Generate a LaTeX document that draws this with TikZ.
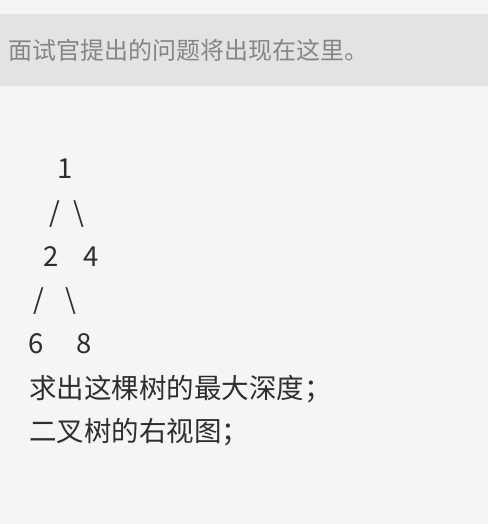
\documentclass[tikz,border=0pt]{standalone}
\usepackage{fontspec}
\setmainfont{Noto Sans CJK SC}
\begin{document}
\begin{tikzpicture}[x=1pt,y=-1pt]
    % ===================================
    % 設定
    % ===================================
    \definecolor{pagebg}{HTML}{F5F5F5}
    \definecolor{bandbg}{HTML}{E3E3E3}
    \definecolor{hintgray}{HTML}{858585}
    \definecolor{inkdark}{HTML}{2E2E2E}

    \tikzset{
        hinttext/.style={inner sep=0pt, text=hintgray, font=\fontsize{24}{28}\selectfont},
        treechar/.style={inner sep=0pt, text=inkdark, font=\fontsize{27.5}{32}\selectfont},
        bodytext/.style={inner sep=0pt, text=inkdark, anchor=base west, font=\fontsize{27.5}{32}\selectfont}
    }
    % ===================================

    % 1. 背景と上部の帯
    \fill[pagebg] (0,0) rectangle (488,524);
    \fill[bandbg] (0,14) rectangle (488,86);
    \useasboundingbox (0,0) rectangle (488,524);
    \node[hinttext, anchor=base west] (hint) at (8,59.5) {面试官提出的问题将出现在这里。};

    % 2. 木の文字 (1 / \ 2 4 / \ 6 8)
    \node[treechar, anchor=base] (n1) at (65,178) {1};
    \node[treechar] (s1) at (55,214) {/};
    \node[treechar] (b1) at (78.5,214) {\textbackslash};
    \node[treechar, anchor=base] (n2) at (51,266) {2};
    \node[treechar, anchor=base] (n4) at (91,266) {4};
    \node[treechar] (s2) at (39,301.5) {/};
    \node[treechar] (b2) at (71,301.5) {\textbackslash};
    \node[treechar, anchor=base] (n6) at (36,353) {6};
    \node[treechar, anchor=base] (n8) at (84.5,353) {8};

    % 3. 問題文
    \node[bodytext] (q1) at (29,398) {求出这棵树的最大深度；};
    \node[bodytext] (q2) at (29,441) {二叉树的右视图；};

\end{tikzpicture}
\end{document}
